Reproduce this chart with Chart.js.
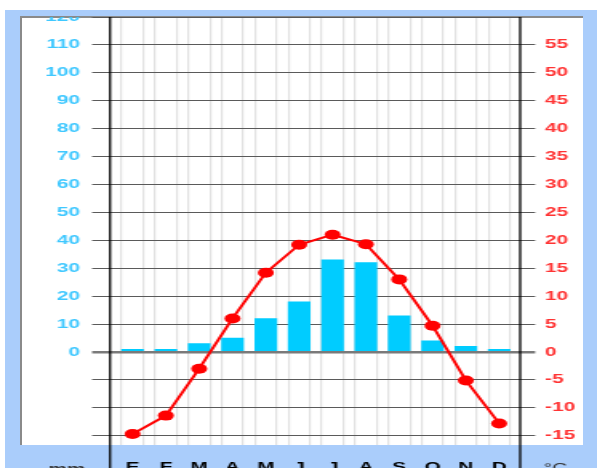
<!DOCTYPE html>
<html>
<head>
<meta charset="utf-8">
<script src="https://cdn.jsdelivr.net/npm/chart.js@4"></script>
<style>
  body { margin: 0; background: #fff; }
  .band { position: absolute; left: 5px; top: 10px; width: 592px; height: 458px; background: #aacdfb; }
  .panel { position: absolute; left: 20px; top: 16px; width: 563px; height: 429px; box-sizing: border-box;
           background: #fff; border-top: 2px solid #8a8a8a; border-left: 2px solid #8a8a8a; }
  .wrap { position: absolute; left: 0; top: 0; width: 373px; height: 468px;
          transform: scaleX(1.6005); transform-origin: 0 0; clip-path: inset(17px 0 0 0); }
</style>
</head>
<body>
<div class="band"></div>
<div class="panel"></div>
<div class="wrap"><canvas id="climo" width="373" height="468"></canvas></div>
<script>
const ctx = document.getElementById('climo');
const months = ['E', 'F', 'M', 'A', 'M', 'J', 'J', 'A', 'S', 'O', 'N', 'D'];
const precip = [1, 1, 3, 5, 12, 18, 33, 32, 13, 4, 2, 1];           // mm
const temp = [-14.7, -11.4, -3.0, 6.0, 14.2, 19.2, 21.0, 19.3, 13.0, 4.7, -5.1, -12.8]; // °C
const mmTicks = [-30, -20, -10, 0, 10, 20, 30, 40, 50, 60, 70, 80, 90, 100, 110, 120];
const cTicks = [-15, -10, -5, 0, 5, 10, 15, 20, 25, 30, 35, 40, 45, 50, 55];

const FONT = { family: '"Liberation Sans", Arial, sans-serif', size: 13, weight: 'bold' };

// month slots and the pale lines at each bar edge
const monthPos = months.map((m, i) => i + 1);
const edgePos = [];
monthPos.forEach(p => { edgePos.push(p - 0.325, p + 0.325); });

const frame = {
    id: 'frame',
    afterDraw(chart) {
        const { ctx, chartArea: a, height } = chart;
        ctx.save();
        ctx.strokeStyle = '#000';
        ctx.lineWidth = 1.3;
        [a.left, a.right].forEach(x => {
            ctx.beginPath();
            ctx.moveTo(x, a.top);
            ctx.lineTo(x, height);
            ctx.stroke();
        });
        ctx.fillStyle = '#333';
        ctx.font = 'bold 13px "Liberation Sans", Arial, sans-serif';
        ctx.textAlign = 'center';
        ctx.textBaseline = 'middle';
        ctx.fillText('mm', a.left - 27, a.bottom + 24);
        ctx.font = '13px "Liberation Sans", Arial, sans-serif';
        ctx.fillText('°C', a.right + 22, a.bottom + 23);
        ctx.restore();
    }
};

new Chart(ctx, {
    type: 'bar',
    data: {
        datasets: [{
            type: 'line',
            data: temp.map((t, i) => ({ x: monthPos[i], y: t })),
            yAxisID: 'y1',
            borderColor: '#ff0000',
            backgroundColor: '#ff0000',
            borderWidth: 2,
            pointRadius: 5,
            pointBorderWidth: 0,
            tension: 0
        }, {
            data: precip.map((v, i) => ({ x: monthPos[i], y: v })),
            yAxisID: 'y',
            backgroundColor: '#00ccff',
            barThickness: 13.5
        }]
    },
    options: {
        responsive: false,
        animation: false,
        devicePixelRatio: 1,
        layout: { padding: { top: 17, left: 0, right: 0, bottom: 0 } },
        plugins: { legend: { display: false }, tooltip: { enabled: false } },
        scales: {
            x: {
                type: 'linear',
                position: 'bottom',
                offset: false,
                min: 0.325,
                max: 12.63,
                afterBuildTicks: s => { s.ticks = monthPos.map(v => ({ value: v })); },
                afterFit: s => { s.height = 23; },
                ticks: {
                    callback: v => months[v - 1],
                    color: '#000',
                    font: FONT,
                    padding: 7,
                    maxRotation: 0,
                    autoSkip: false
                },
                grid: { display: false, offset: false },
                border: { display: false }
            },
            xg: {
                type: 'linear',
                position: 'top',
                offset: false,
                min: 0.325,
                max: 12.63,
                afterBuildTicks: s => { s.ticks = edgePos.map(v => ({ value: v })); },
                afterFit: s => { s.height = 0; },
                ticks: { display: false },
                grid: { color: '#e2e2e2', lineWidth: 1.2, drawTicks: false, offset: false },
                border: { display: false }
            },
            y: {
                position: 'left',
                min: -33.3,
                max: 120,
                afterBuildTicks: s => { s.ticks = mmTicks.map(v => ({ value: v })); },
                afterFit: s => { s.width = 68.75; },
                ticks: {
                    callback: v => (v >= 0 ? v : ''),
                    color: '#3fc8ff',
                    font: FONT,
                    padding: 7.5
                },
                grid: {
                    color: c => (c.tick && c.tick.value === 0 ? '#7a7a7a' : '#5a5a5a'),
                    lineWidth: c => (c.tick && c.tick.value === 0 ? 2.5 : 1),
                    tickLength: 11.25
                },
                border: { display: false }
            },
            y1: {
                position: 'right',
                min: -16.667,
                max: 60,
                afterBuildTicks: s => { s.ticks = cTicks.map(v => ({ value: v })); },
                afterFit: s => { s.width = 48; },
                ticks: {
                    color: '#ff3333',
                    font: FONT,
                    padding: 6.2
                },
                grid: {
                    drawOnChartArea: false,
                    color: c => (c.tick && c.tick.value === 0 ? '#7a7a7a' : '#5a5a5a'),
                    lineWidth: c => (c.tick && c.tick.value === 0 ? 2.5 : 1),
                    tickLength: 9.4
                },
                border: { display: false }
            }
        }
    },
    plugins: [frame]
});
</script>
</body>
</html>
